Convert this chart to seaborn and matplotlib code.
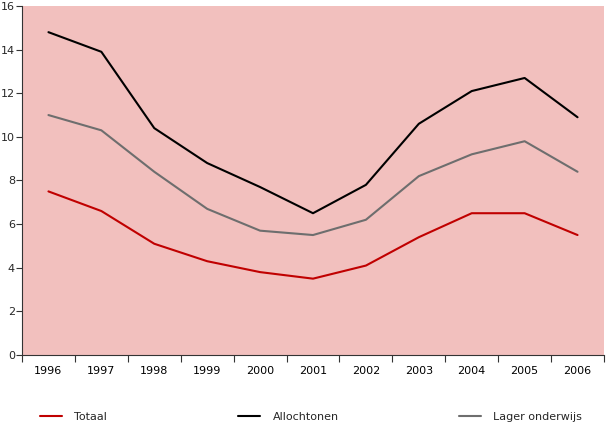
import matplotlib
matplotlib.use("Agg")
import matplotlib.pyplot as plt
import seaborn as sns
import pandas as pd
import numpy as np
from matplotlib.ticker import FixedLocator

years = ["1996", "1997", "1998", "1999", "2000", "2001", "2002", "2003", "2004", "2005", "2006"]
totaal = [7.5, 6.6, 5.1, 4.3, 3.8, 3.5, 4.1, 5.4, 6.5, 6.5, 5.5]
allochtonen = [14.8, 13.9, 10.4, 8.8, 7.7, 6.5, 7.8, 10.6, 12.1, 12.7, 10.9]
lager_onderwijs = [11.0, 10.3, 8.4, 6.7, 5.7, 5.5, 6.2, 8.2, 9.2, 9.8, 8.4]
series_names = ["Totaal", "Allochtonen", "Lager onderwijs"]
y_ticks = [0, 2, 4, 6, 8, 10, 12, 14, 16]

sns.set_theme(style="white")
plt.rcParams["font.family"] = ["DejaVu Sans"]

df = pd.DataFrame({
    "jaar": years * 3,
    "waarde": totaal + allochtonen + lager_onderwijs,
    "reeks": [series_names[0]] * len(years) + [series_names[1]] * len(years) + [series_names[2]] * len(years),
})

fig = plt.figure(figsize=(6.06, 4.25), dpi=100)
ax = fig.add_axes([0.0363, 0.1647, 0.9604, 0.8212])
ax.set_facecolor("#F2C0BE")

palette = {"Totaal": "#C00000", "Allochtonen": "#000000", "Lager onderwijs": "#6E6E6E"}
sns.lineplot(data=df, x="jaar", y="waarde", hue="reeks", palette=palette,
             linewidth=1.5, ax=ax, sort=False, legend=True)

ax.set_xlim(-0.5, len(years) - 0.5)
ax.set_ylim(0, 16)
ax.set_yticks(y_ticks)
ax.set_yticklabels([str(t) for t in y_ticks], fontsize=8)
ax.set_xticks(range(len(years)))
ax.set_xticklabels(years, fontsize=8)
ax.xaxis.set_minor_locator(FixedLocator(np.arange(-0.5, len(years), 1.0)))
ax.tick_params(axis="x", which="major", length=0, pad=8, colors="#000000")
ax.tick_params(axis="x", which="minor", length=5, width=0.8, color="#333333", direction="out", bottom=True)
ax.tick_params(axis="y", which="major", length=4, width=0.8, color="#333333", direction="out", left=True, pad=1)
ax.set_xlabel("")
ax.set_ylabel("")
for s in ["top", "right"]:
    ax.spines[s].set_visible(False)
for s in ["left", "bottom"]:
    ax.spines[s].set_color("#333333")
    ax.spines[s].set_linewidth(0.8)

handles, labels = ax.get_legend_handles_labels()
ax.get_legend().remove()
x_positions = [40 / 606, 238 / 606, 459 / 606]
for h, lab, xp in zip(handles, labels, x_positions):
    fig.legend([h], [lab], loc="center left", bbox_to_anchor=(xp, 8 / 425),
               frameon=False, fontsize=8, handlelength=2.0, handletextpad=1.1,
               borderpad=0, borderaxespad=0)

fig.savefig("out.png", dpi=100)
